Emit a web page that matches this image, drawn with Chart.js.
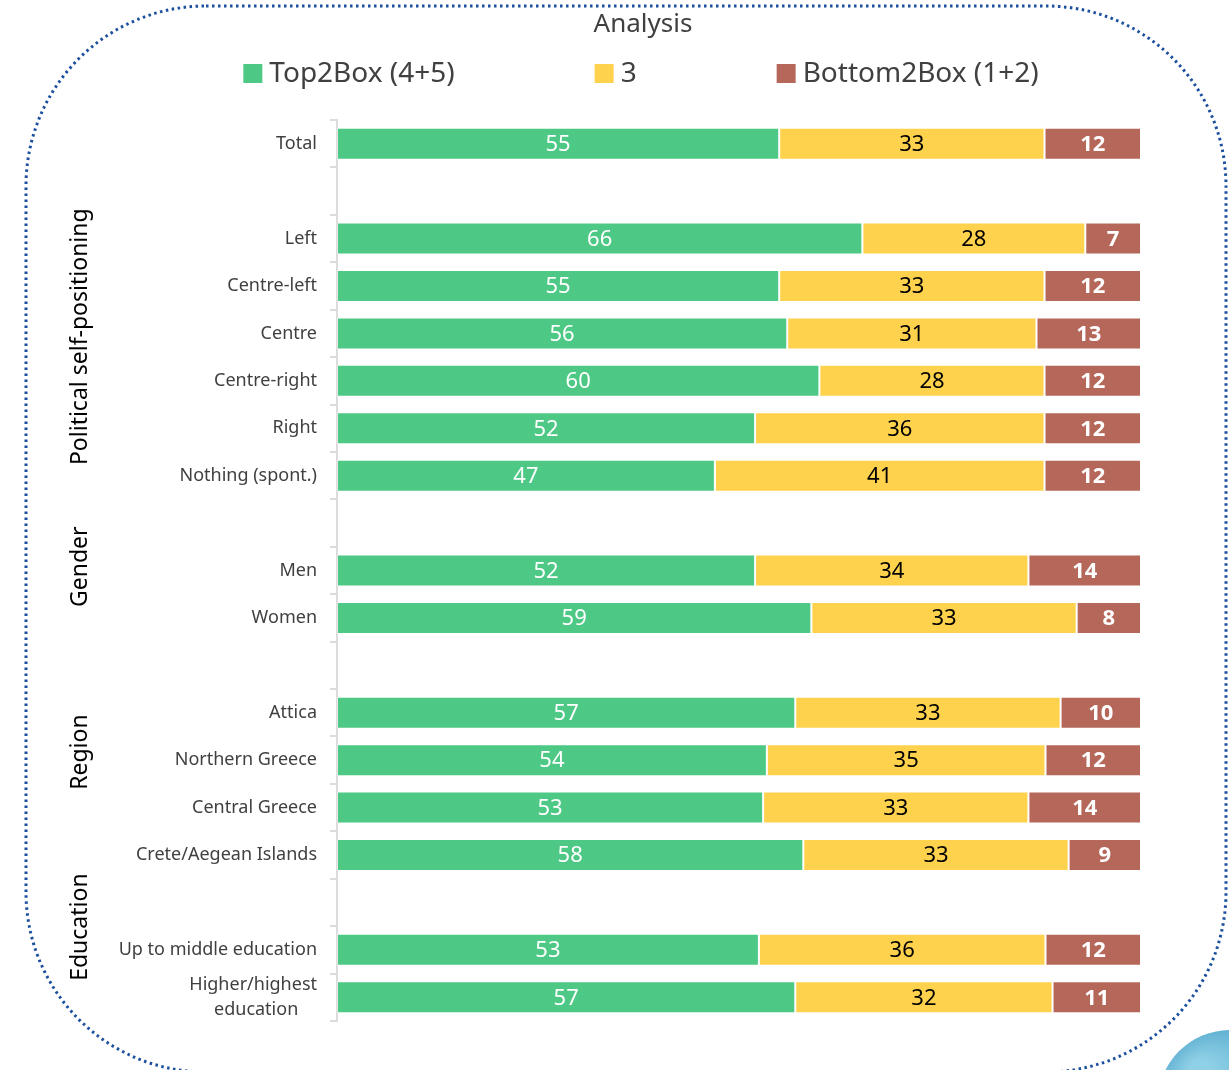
<!DOCTYPE html>
<html>
<head>
<meta charset="utf-8">
<script src="https://cdn.jsdelivr.net/npm/chart.js@4"></script>
<style>
  html, body { margin: 0; padding: 0; background: #fff; }
</style>
</head>
<body>
<canvas id="chart" width="1229" height="1070"></canvas>
<script>
// data
const categories = ['Total', '', 'Left', 'Centre-left', 'Centre', 'Centre-right', 'Right', 'Nothing (spont.)', '',
  'Men', 'Women', '', 'Attica', 'Northern Greece', 'Central Greece', 'Crete/Aegean Islands', '',
  'Up to middle education', ['Higher/highest', 'education    ']];
const top2box    = [55, null, 66, 55, 56, 60, 52, 47, null, 52, 59, null, 57, 54, 53, 58, null, 53, 57];
const middle     = [33, null, 28, 33, 31, 28, 36, 41, null, 34, 33, null, 33, 35, 33, 33, null, 36, 32];
const bottom2box = [12, null,  7, 12, 13, 12, 12, 12, null, 14,  8, null, 10, 12, 14,  9, null, 12, 11];
const seriesNames = ['Top2Box (4+5)', '3', 'Bottom2Box (1+2)'];
const groupNames = ['Political self-positioning', 'Gender', 'Region', 'Education'];

// layout bits (not data)
const groupCenters = [4.07, 8.92, 12.83, 16.52];
const colors = ['#4dc985', '#ffd24d', '#b5675a'];
const labelColors = ['#ffffff', '#000000', '#ffffff'];
const labelWeights = ['normal', 'normal', 'bold'];
const FONT = '"Noto Sans", sans-serif';

const raw = [top2box, middle, bottom2box];
// bars are 100% stacked, so scale each row to its own total
const share = (arr) => arr.map((v, i) => {
  if (v == null) return null;
  return v / (top2box[i] + middle[i] + bottom2box[i]) * 100;
});

const frame = {
  id: 'frame',
  beforeDraw(chart) {
    const ctx = chart.ctx;
    ctx.save();
    ctx.fillStyle = '#fff';
    ctx.fillRect(0, 0, chart.width, chart.height);
    // dotted rounded frame
    ctx.strokeStyle = '#1c4f9e';
    ctx.lineWidth = 3;
    ctx.setLineDash([2.5, 3.5]);
    ctx.beginPath();
    ctx.roundRect(26, 6, 1200, 1066, 180);
    ctx.stroke();
    ctx.setLineDash([]);
    // little blue ball bottom right
    const g = ctx.createRadialGradient(1200, 1070, 10, 1225, 1100, 75);
    g.addColorStop(0, '#8fd0e6');
    g.addColorStop(1, '#5aaccf');
    ctx.fillStyle = g;
    ctx.beginPath();
    ctx.arc(1230, 1102, 72, 0, Math.PI * 2);
    ctx.fill();
    ctx.restore();
  },
  afterDraw(chart) {
    const ctx = chart.ctx;
    const y = chart.scales.y;
    ctx.save();
    // title
    ctx.fillStyle = '#404040';
    ctx.font = '26px ' + FONT;
    ctx.textAlign = 'center';
    ctx.textBaseline = 'middle';
    ctx.fillText('Analysis', 643, 25);
    // legend
    ctx.font = '28px ' + FONT;
    const box = 19, gapText = 7, gap = 140;
    const widths = seriesNames.map(n => box + gapText + ctx.measureText(n).width);
    const total = widths.reduce((a, b) => a + b, 0) + gap * (seriesNames.length - 1);
    let x = 641 - total / 2;
    ctx.textAlign = 'left';
    seriesNames.forEach((n, i) => {
      ctx.fillStyle = colors[i];
      ctx.fillRect(x, 64, box, box);
      ctx.fillStyle = '#404040';
      ctx.fillText(n, x + box + gapText, 74);
      x += widths[i] + gap;
    });
    // group labels, rotated
    ctx.fillStyle = '#000';
    ctx.font = '23px ' + FONT;
    ctx.textAlign = 'center';
    groupNames.forEach((n, i) => {
      const cy = y.getPixelForValue(groupCenters[i]);
      ctx.save();
      ctx.translate(80, cy);
      ctx.rotate(-Math.PI / 2);
      ctx.fillText(n, 0, 0);
      ctx.restore();
    });
    ctx.restore();
  },
  afterDatasetsDraw(chart) {
    const ctx = chart.ctx;
    ctx.save();
    ctx.textAlign = 'center';
    ctx.textBaseline = 'middle';
    chart.data.datasets.forEach((ds, di) => {
      const meta = chart.getDatasetMeta(di);
      ctx.fillStyle = labelColors[di];
      ctx.font = labelWeights[di] + ' 22px ' + FONT;
      meta.data.forEach((el, i) => {
        const v = raw[di][i];
        if (v == null) return;
        const p = el.getProps(['x', 'y', 'base'], true);
        ctx.fillText(String(v), (p.x + p.base) / 2, p.y + 1);
      });
    });
    ctx.restore();
  }
};

new Chart(document.getElementById('chart'), {
  type: 'bar',
  data: {
    labels: categories,
    datasets: seriesNames.map((n, i) => ({
      label: n,
      data: share(raw[i]),
      backgroundColor: colors[i],
      borderColor: 'rgba(255,255,255,0.35)',
      borderWidth: 1,
      borderSkipped: false,
      barPercentage: 0.675,
      categoryPercentage: 1
    }))
  },
  options: {
    indexAxis: 'y',
    responsive: false,
    animation: false,
    devicePixelRatio: 1,
    layout: { padding: { top: 120, right: 88, bottom: 49, left: 0 } },
    plugins: {
      legend: { display: false },
      title: { display: false },
      tooltip: { enabled: false }
    },
    scales: {
      x: { stacked: true, min: 0, max: 100, display: false },
      y: {
        stacked: true,
        grid: { offset: true, drawOnChartArea: false, tickLength: 7, color: '#dcdcdc', lineWidth: 2 },
        border: { color: '#dcdcdc', width: 2 },
        ticks: {
          color: '#404040',
          font: { family: FONT, size: 18, lineHeight: 1.4 },
          padding: 13,
          autoSkip: false
        },
        afterFit(s) { s.width = 337; }
      }
    }
  },
  plugins: [frame]
});
</script>
</body>
</html>
